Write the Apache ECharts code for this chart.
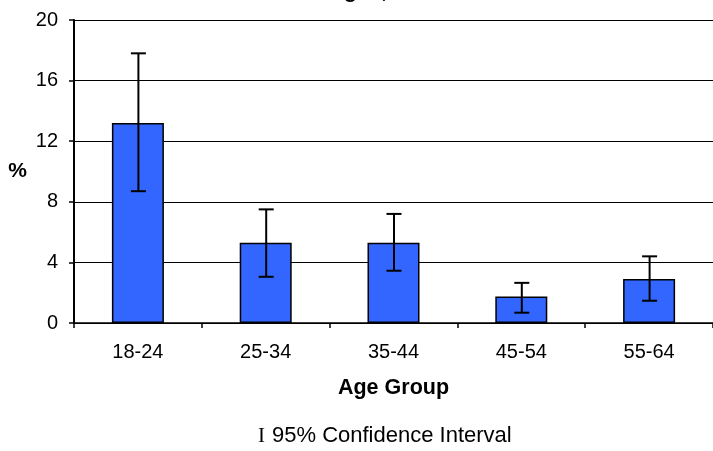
<!DOCTYPE html>
<html><head><meta charset="utf-8">
<script src="https://cdn.jsdelivr.net/npm/echarts@6/dist/echarts.min.js"></script>
<style>html,body{margin:0;padding:0;background:#fff}#c{width:713px;height:451px}</style>
</head><body><div id="c"></div>
<script>
const categories = ['18-24', '25-34', '35-44', '45-54', '55-64'];
const values = [13.2, 5.3, 5.3, 1.75, 2.9];
const ciLow = [8.7, 3.05, 3.45, 0.68, 1.47];
const ciHigh = [17.8, 7.5, 7.2, 2.65, 4.4];
const yTicks = [0, 4, 8, 12, 16, 20];

const chart = echarts.init(document.getElementById('c'));
const font = 'Liberation Sans, Arial, sans-serif';
chart.setOption({
  animation: false,
  title: {
    text: 'Michigan, 2005',
    left: 365, top: -18, textAlign: 'center', padding: 0,
    textStyle: { fontFamily: font, fontSize: 21, fontWeight: 'bold', color: '#000' }
  },
  grid: { left: 74, top: 20, width: 645, height: 303, containLabel: false },
  xAxis: {
    type: 'category', data: categories,
    axisLine: { lineStyle: { color: '#000', width: 1.5 } },
    axisTick: { show: true, length: 5, lineStyle: { color: '#000', width: 1.5 } },
    axisLabel: { margin: 19, fontFamily: font, fontSize: 20, color: '#000' },
    name: 'Age Group', nameLocation: 'middle', nameGap: 54,
    nameTextStyle: { fontFamily: font, fontSize: 21.5, fontWeight: 'bold', color: '#000' }
  },
  yAxis: {
    type: 'value', min: 0, max: 20, interval: 4,
    axisLine: { show: true, lineStyle: { color: '#000', width: 2 } },
    axisTick: { show: true, length: 5, lineStyle: { color: '#000', width: 1.5 } },
    axisLabel: { margin: 16, fontFamily: font, fontSize: 20, color: '#000',
      formatter: v => yTicks.includes(v) ? String(v) : '' },
    splitLine: { show: true, lineStyle: { color: '#000', width: 1.2 } },
    name: '%', nameLocation: 'middle', nameGap: 47, nameRotate: 0,
    nameTextStyle: { fontFamily: font, fontSize: 21, fontWeight: 'bold', color: '#000' }
  },
  series: [
    {
      type: 'bar', data: values, barWidth: 52,
      itemStyle: { color: '#3366FF', borderColor: '#000', borderWidth: 1.5 }
    },
    {
      type: 'custom', z: 5,
      data: categories.map((c, i) => [i, ciLow[i], ciHigh[i]]),
      renderItem: function (params, api) {
        const lo = api.coord([api.value(0), api.value(1)]);
        const hi = api.coord([api.value(0), api.value(2)]);
        const x = lo[0] + 0.5, hw = 7.5;
        const st = { stroke: '#000', lineWidth: 2 };
        return { type: 'group', children: [
          { type: 'line', shape: { x1: x, y1: lo[1], x2: x, y2: hi[1] }, style: st },
          { type: 'line', shape: { x1: x - hw, y1: lo[1], x2: x + hw, y2: lo[1] }, style: st },
          { type: 'line', shape: { x1: x - hw, y1: hi[1], x2: x + hw, y2: hi[1] }, style: st }
        ]};
      }
    }
  ],
  graphic: [
    { type: 'text', left: 258, top: 426,
      style: { text: 'I', font: '21px "Liberation Serif", serif', fill: '#000' } },
    { type: 'text', left: 272, top: 425,
      style: { text: '95% Confidence Interval', font: '22px "Liberation Sans", Arial, sans-serif', fill: '#000' } }
  ]
});
</script></body></html>
